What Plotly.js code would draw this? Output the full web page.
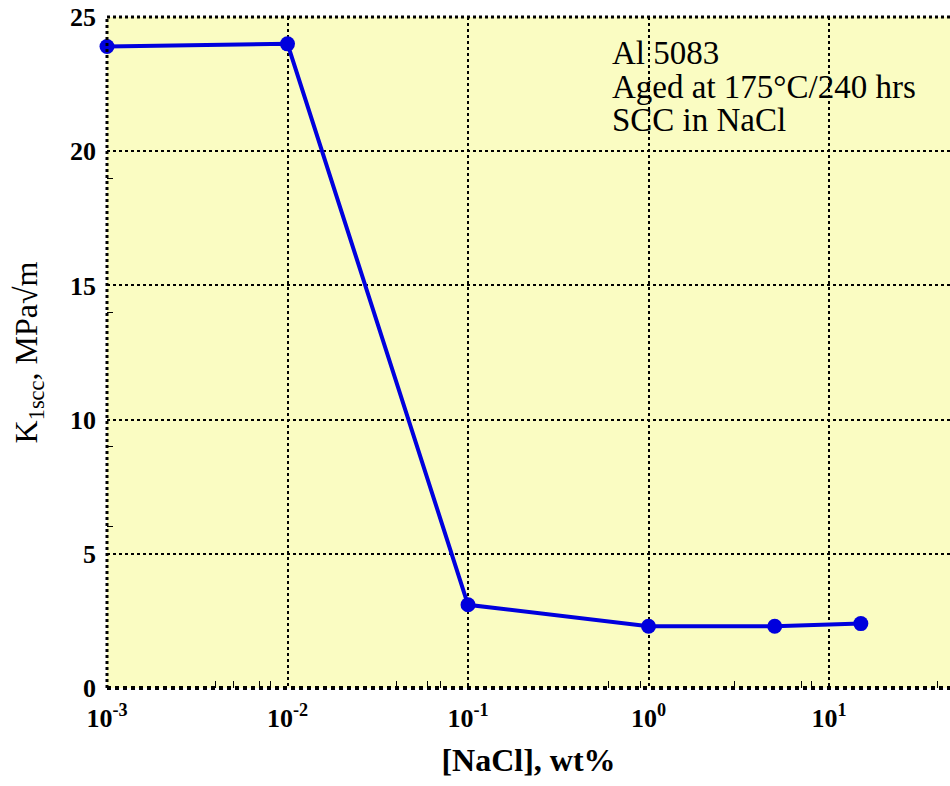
<!DOCTYPE html>
<html>
<head>
<meta charset="utf-8">
<script src="https://cdn.plot.ly/plotly-3.0.1.min.js"></script>
<style>html,body{margin:0;padding:0;background:#fff;}#chart{width:950px;height:786px;}</style>
</head>
<body>
<div id="chart"></div>
<script>
const naclWt = [0.001, 0.01, 0.1, 1, 5, 15];
const k1scc = [23.9, 24.0, 3.1, 2.3, 2.3, 2.4];
const xTickVals = [0.001, 0.01, 0.1, 1, 10];
const xTickText = ['10<sup>-3</sup>', '10<sup>-2</sup>', '10<sup>-1</sup>', '10<sup>0</sup>', '10<sup>1</sup>'];
const xMinorVals = [0.004, 0.005, 0.007, 0.008, 0.04, 0.06, 0.07, 0.6, 0.9, 3, 7, 8, 40];
const yTickVals = [0, 5, 10, 15, 20, 25];
const yMinorVals = [6, 9, 14, 19];
const noteLines = ['Al 5083', 'Aged at 175°C/240 hrs', 'SCC in NaCl'];

const serif = 'Liberation Serif';

const trace = {
  x: naclWt, y: k1scc, type: 'scatter', mode: 'lines+markers',
  line: {color: '#0000dd', width: 4},
  marker: {color: '#0000dd', size: 15},
  cliponaxis: false, hoverinfo: 'skip'
};

const dotLine = {color: '#000', width: 3, dash: 'dot'};
const noteY = [0.946, 0.896, 0.846];
const layout = {
  width: 950, height: 786,
  margin: {l: 107, r: 0, t: 17, b: 98},
  paper_bgcolor: '#ffffff',
  plot_bgcolor: '#fafcc2',
  showlegend: false,
  xaxis: {
    type: 'log', range: [-3, 1.67],
    tickmode: 'array', tickvals: xTickVals, ticktext: xTickText,
    showgrid: true, gridcolor: '#000', gridwidth: 2, griddash: 'dot',
    ticks: '', showline: false, zeroline: false, ticklabelstandoff: 12,
    tickfont: {family: serif, size: 26, color: '#000', weight: 'bold'},
    minor: {tickmode: 'array', tickvals: xMinorVals, ticks: 'inside', ticklen: 7, tickwidth: 1, tickcolor: '#000', showgrid: false},
    title: {text: '[NaCl], wt%', font: {family: serif, size: 32, color: '#000', weight: 'bold'}, standoff: 16}
  },
  yaxis: {
    range: [0, 25],
    tickmode: 'array', tickvals: yTickVals,
    showgrid: true, gridcolor: '#000', gridwidth: 2, griddash: 'dot',
    ticks: '', showline: false, zeroline: false, ticklabelstandoff: 10,
    tickfont: {family: serif, size: 26, color: '#000', weight: 'bold'},
    minor: {tickmode: 'array', tickvals: yMinorVals, ticks: 'inside', ticklen: 6, tickwidth: 1, tickcolor: '#000', showgrid: false},
    title: {text: 'K<sub>1scc</sub>, MPa√m', font: {family: serif, size: 32, color: '#000'}, standoff: 22}
  },
  shapes: [
    {type: 'line', xref: 'paper', yref: 'paper', x0: 0, x1: 1, y0: 1, y1: 1, line: dotLine},
    {type: 'line', xref: 'paper', yref: 'paper', x0: 0, x1: 0, y0: 0, y1: 1, line: dotLine},
    {type: 'line', xref: 'paper', yref: 'paper', x0: 0, x1: 1, y0: 0, y1: 0, line: {color: '#000', width: 4, dash: 'dot'}}
  ],
  annotations: noteLines.map((t, i) => ({
    xref: 'paper', yref: 'paper', x: 0.597, y: noteY[i], xanchor: 'left', yanchor: 'middle',
    text: t, align: 'left', showarrow: false,
    font: {family: serif, size: 33, color: '#000'}
  }))
};

Plotly.newPlot('chart', [trace], layout, {displayModeBar: false, staticPlot: true});
</script>
</body>
</html>
